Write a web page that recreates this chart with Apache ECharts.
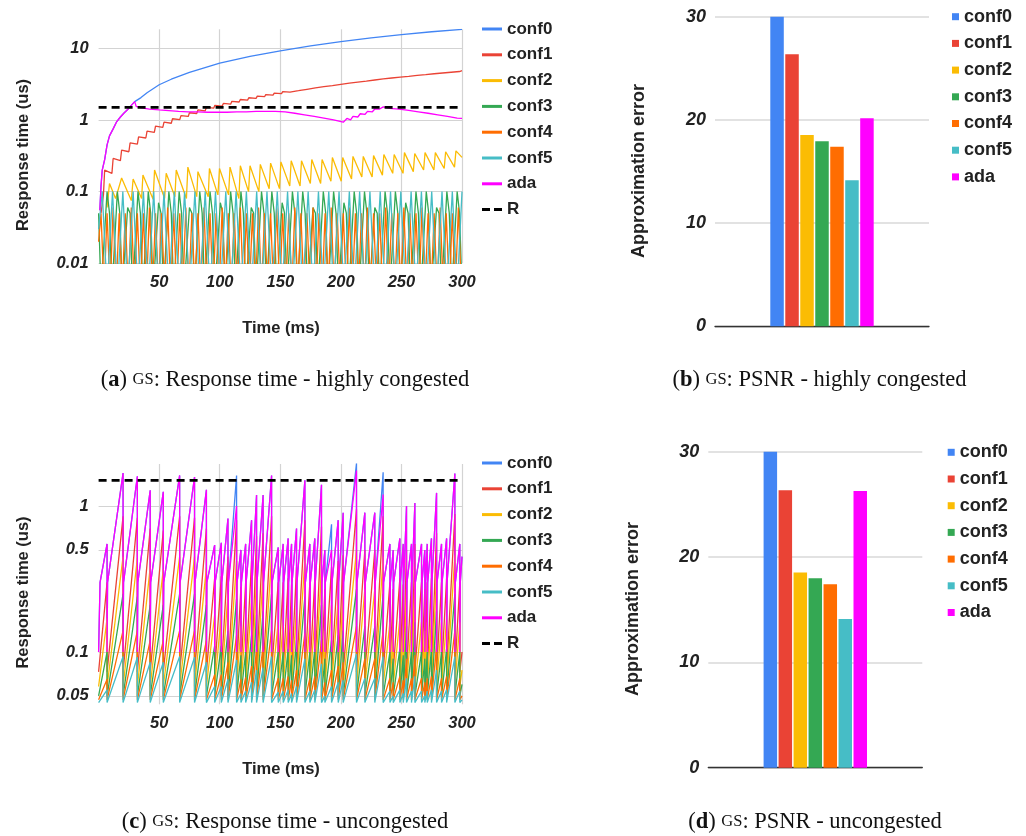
<!DOCTYPE html>
<html>
<head>
<meta charset="utf-8">
<script src="https://cdn.jsdelivr.net/npm/echarts@6/dist/echarts.min.js"></script>
<style>
  html, body { margin: 0; padding: 0; background: #fff; }
  #chart { width: 1026px; height: 836px; }
</style>
</head>
<body>
<div id="chart"></div>
<script>
// ---- shared ----
const seriesNames = ['conf0', 'conf1', 'conf2', 'conf3', 'conf4', 'conf5', 'ada']
const seriesColors = ['#4285F4', '#EA4335', '#FBBC04', '#34A853', '#FF6D01', '#46BDC6', '#FF00FF']
const rValue = 1.5

// ---- (a) response time, highly congested: [time ms, response us] ----
const yTicksA = [0.01, 0.1, 1, 10]
const conf0A = [[1,0.055],[2,0.12],[3,0.2],[5,0.28],[7,0.45],[9,0.6],[12,0.75],[15,0.95],[18,1.1],[21,1.25],[24,1.4],[27,1.6],[29.8,1.8],[35,2.05],[40,2.4],[50,3.1],[60,3.7],[75,4.6],[100,6.2],[125,7.7],[150,9.2],[175,10.8],[200,12.4],[225,14],[250,15.5],[275,17],[300,18.4]]
const conf1A = [[2,0.05],[4,0.09],[5,0.2],[11,0.18],[12,0.29],[18,0.27],[19,0.38],[25,0.36],[26,0.48],[32,0.46],[33,0.58],[39,0.56],[40,0.7],[46,0.67],[47,0.82],[53,0.79],[54,0.93],[60,0.9],[61,1.04],[67,1.01],[68,1.15],[74,1.12],[75,1.26],[81,1.23],[82,1.38],[88,1.34],[89,1.5],[95,1.46],[96,1.6],[102,1.56],[103,1.7],[109,1.66],[110,1.82],[116,1.78],[117,1.93],[123,1.89],[124,2.04],[130,2.0],[131,2.15],[137,2.11],[138,2.26],[144,2.22],[145,2.37],[151,2.33],[152,2.49],[158,2.45],[159,2.6],[165,2.56],[166,2.72],[172,2.68],[173,2.84],[179,2.8],[180,2.95],[186,2.91],[187,3.06],[193,3.02],[194,3.18],[200,3.14],[201,3.3],[207,3.26],[208,3.42],[214,3.38],[215,3.53],[221,3.49],[222,3.65],[228,3.61],[229,3.77],[235,3.73],[236,3.89],[242,3.85],[243,4.0],[249,3.96],[250,4.1],[256,4.06],[257,4.22],[263,4.18],[264,4.33],[270,4.29],[271,4.45],[277,4.41],[278,4.56],[284,4.52],[285,4.67],[291,4.63],[292,4.78],[298,4.74],[299,4.88],[300,4.87]]
const conf2A = [[7,0.06],[9,0.13],[14,0.08],[19,0.155],[27,0.075],[28.5,0.15],[35.5,0.08],[36.6,0.17],[45,0.078],[46.2,0.2],[54.5,0.08],[55.8,0.18],[63,0.085],[64.1,0.2],[72.5,0.08],[73.7,0.22],[81,0.085],[82,0.19],[90.5,0.085],[91.5,0.21],[98.5,0.09],[99.8,0.21],[107.3,0.09],[108.5,0.22],[115.8,0.08],[117,0.23],[123.8,0.1],[125,0.23],[132.3,0.1],[133.5,0.24],[140.8,0.11],[142,0.25],[149.3,0.11],[150.5,0.26],[157.8,0.12],[159,0.27],[166.3,0.12],[167.5,0.27],[174.8,0.13],[176,0.28],[183.3,0.13],[184.5,0.28],[191.8,0.14],[193,0.3],[200.3,0.14],[201.5,0.3],[208.8,0.15],[210,0.31],[217.3,0.16],[218.5,0.31],[225.8,0.16],[227,0.32],[234.3,0.17],[235.5,0.33],[242.8,0.18],[244,0.33],[251.3,0.18],[252.5,0.35],[259.8,0.19],[261,0.34],[268.3,0.2],[269.5,0.35],[276.8,0.2],[278,0.35],[285.3,0.21],[286.5,0.36],[293.8,0.22],[295,0.37],[300,0.3]]
const conf3A = [[0,0.05],[2,0.004],[7,0.1],[9,0.05],[11,0.004],[15.5,0.1],[17.5,0.05],[19.5,0.004],[24,0.06],[26,0.05],[28,0.004],[32.5,0.1],[34.5,0.05],[36.5,0.004],[41,0.1],[43,0.05],[45,0.004],[49.5,0.07],[51.5,0.05],[53.5,0.004],[58,0.1],[60,0.05],[62,0.004],[66.5,0.1],[68.5,0.05],[70.5,0.004],[75,0.06],[77,0.05],[79,0.004],[83.5,0.1],[85.5,0.05],[87.5,0.004],[92,0.1],[94,0.05],[96,0.004],[100.5,0.07],[102.5,0.05],[104.5,0.004],[109,0.1],[111,0.05],[113,0.004],[117.5,0.1],[119.5,0.05],[121.5,0.004],[126,0.06],[128,0.05],[130,0.004],[134.5,0.1],[136.5,0.05],[138.5,0.004],[143,0.1],[145,0.05],[147,0.004],[151.5,0.07],[153.5,0.05],[155.5,0.004],[160,0.1],[162,0.05],[164,0.004],[168.5,0.1],[170.5,0.05],[172.5,0.004],[177,0.06],[179,0.05],[181,0.004],[185.5,0.1],[187.5,0.05],[189.5,0.004],[194,0.1],[196,0.05],[198,0.004],[202.5,0.07],[204.5,0.05],[206.5,0.004],[211,0.1],[213,0.05],[215,0.004],[219.5,0.1],[221.5,0.05],[223.5,0.004],[228,0.06],[230,0.05],[232,0.004],[236.5,0.1],[238.5,0.05],[240.5,0.004],[245,0.1],[247,0.05],[249,0.004],[253.5,0.07],[255.5,0.05],[257.5,0.004],[262,0.1],[264,0.05],[266,0.004],[270.5,0.1],[272.5,0.05],[274.5,0.004],[279,0.06],[281,0.05],[283,0.004],[287.5,0.1],[289.5,0.05],[291.5,0.004],[296,0.1],[298,0.05],[300,0.004]]
const conf4A = [[0,0.02],[2,0.05],[4.5,0.004],[7,0.05],[9.5,0.004],[12,0.06],[14.5,0.004],[17,0.05],[19.5,0.004],[22,0.05],[24.5,0.004],[27,0.06],[29.5,0.004],[32,0.05],[34.5,0.004],[37,0.05],[39.5,0.004],[42,0.06],[44.5,0.004],[47,0.05],[49.5,0.004],[52,0.05],[54.5,0.004],[57,0.06],[59.5,0.004],[62,0.05],[64.5,0.004],[67,0.05],[69.5,0.004],[72,0.06],[74.5,0.004],[77,0.05],[79.5,0.004],[82,0.05],[84.5,0.004],[87,0.06],[89.5,0.004],[92,0.05],[94.5,0.004],[97,0.05],[99.5,0.004],[102,0.06],[104.5,0.004],[107,0.05],[109.5,0.004],[112,0.05],[114.5,0.004],[117,0.06],[119.5,0.004],[122,0.05],[124.5,0.004],[127,0.05],[129.5,0.004],[132,0.06],[134.5,0.004],[137,0.05],[139.5,0.004],[142,0.05],[144.5,0.004],[147,0.06],[149.5,0.004],[152,0.05],[154.5,0.004],[157,0.05],[159.5,0.004],[162,0.06],[164.5,0.004],[167,0.05],[169.5,0.004],[172,0.05],[174.5,0.004],[177,0.06],[179.5,0.004],[182,0.05],[184.5,0.004],[187,0.05],[189.5,0.004],[192,0.06],[194.5,0.004],[197,0.05],[199.5,0.004],[202,0.05],[204.5,0.004],[207,0.06],[209.5,0.004],[212,0.05],[214.5,0.004],[217,0.05],[219.5,0.004],[222,0.06],[224.5,0.004],[227,0.05],[229.5,0.004],[232,0.05],[234.5,0.004],[237,0.06],[239.5,0.004],[242,0.05],[244.5,0.004],[247,0.05],[249.5,0.004],[252,0.06],[254.5,0.004],[257,0.05],[259.5,0.004],[262,0.05],[264.5,0.004],[267,0.06],[269.5,0.004],[272,0.05],[274.5,0.004],[277,0.05],[279.5,0.004],[282,0.06],[284.5,0.004],[287,0.05],[289.5,0.004],[292,0.05],[294.5,0.004],[297,0.06],[299.5,0.004]]
const conf5A = [[0,0.03],[3,0.1],[7,0.004],[11.5,0.1],[15.5,0.004],[20,0.1],[24,0.004],[28.5,0.1],[32.5,0.004],[37,0.1],[41,0.004],[45.5,0.1],[49.5,0.004],[54,0.1],[58,0.004],[62.5,0.1],[66.5,0.004],[71,0.1],[75,0.004],[79.5,0.1],[83.5,0.004],[88,0.1],[92,0.004],[96.5,0.1],[100.5,0.004],[105,0.1],[109,0.004],[113.5,0.1],[117.5,0.004],[122,0.1],[126,0.004],[130.5,0.1],[134.5,0.004],[139,0.1],[143,0.004],[147.5,0.1],[151.5,0.004],[156,0.1],[160,0.004],[164.5,0.1],[168.5,0.004],[173,0.1],[177,0.004],[181.5,0.1],[185.5,0.004],[190,0.1],[194,0.004],[198.5,0.1],[202.5,0.004],[207,0.1],[211,0.004],[215.5,0.1],[219.5,0.004],[224,0.1],[228,0.004],[232.5,0.1],[236.5,0.004],[241,0.1],[245,0.004],[249.5,0.1],[253.5,0.004],[258,0.1],[262,0.004],[266.5,0.1],[270.5,0.004],[275,0.1],[279,0.004],[283.5,0.1],[287.5,0.004],[292,0.1],[296,0.004],[300,0.1]]
const adaA = [[1,0.055],[2,0.12],[3,0.2],[5,0.28],[7,0.45],[9,0.6],[12,0.75],[15,0.95],[18,1.1],[21,1.25],[24,1.4],[27,1.6],[29.8,1.8],[31,1.55],[34,1.5],[38,1.45],[42,1.42],[43,1.48],[50,1.38],[51,1.44],[58,1.35],[59,1.41],[66,1.32],[67,1.38],[74,1.3],[75,1.36],[82,1.3],[83,1.36],[90,1.28],[91,1.35],[98,1.28],[99,1.34],[106,1.28],[107,1.35],[114,1.3],[115,1.36],[122,1.3],[123,1.37],[130,1.32],[131,1.38],[138,1.32],[139,1.38],[146,1.32],[147,1.38],[154,1.3],[155,1.35],[162,1.24],[163,1.3],[170,1.18],[171,1.24],[178,1.12],[179,1.18],[186,1.06],[187,1.12],[194,1.0],[195,1.05],[202,0.93],[205,1.05],[208,1.0],[210,1.12],[214,1.1],[216,1.22],[220,1.2],[222,1.32],[226,1.3],[228,1.42],[232,1.42],[235,1.52],[240,1.45],[241,1.5],[248,1.42],[249,1.47],[256,1.36],[257,1.41],[264,1.3],[265,1.35],[272,1.24],[273,1.29],[280,1.18],[281,1.23],[288,1.12],[289,1.17],[296,1.06],[297,1.1],[300,1.05]]

// ---- (c) response time, uncongested: reset times + per-cycle peaks ----
const yTicksC = [0.05, 0.1, 0.5, 1]
const resetC = [7.0,20.2,32.0,42.6,53.4,66.9,79.2,89.0,95.8,101.3,106.8,113.9,117.5,121.4,126.3,130.4,135.8,142.8,148.3,152.4,156.5,159.3,163.4,170.3,174.4,178.5,184.0,186.8,192.3,197.8,201.9,212.9,219.8,228.0,234.9,240.5,243.2,248.7,251.5,254.2,258.3,261.1,266.6,269.3,271.3,274.8,279.0,283.1,287.3,294.1,298.2]
const conf0C = [0.55,1.68,1.6,1.28,1.25,1.62,1.58,1.29,0.54,0.56,0.82,1.62,0.5,0.55,0.8,1.19,1.19,1.62,0.52,0.55,0.6,0.55,0.7,1.5,0.55,0.6,1.4,0.5,0.75,0.8,0.9,1.96,0.9,0.9,1.7,0.55,0.5,0.6,0.55,1.0,0.55,1.05,0.55,0.5,0.55,0.6,1.23,0.55,0.6,1.67,0.55]
const conf1C = [0.3,0.85,0.83,0.7,0.68,0.85,0.83,0.7,0.32,0.33,0.45,0.8,0.28,0.3,0.42,0.62,0.65,0.85,0.3,0.3,0.32,0.29,0.38,0.8,0.3,0.32,0.72,0.27,0.38,0.42,0.46,0.95,0.5,0.5,0.85,0.3,0.27,0.32,0.29,0.5,0.3,0.55,0.3,0.27,0.3,0.32,0.65,0.3,0.32,0.88,0.3]
const conf2C = [0.17,0.45,0.44,0.38,0.37,0.45,0.45,0.38,0.18,0.18,0.25,0.42,0.15,0.16,0.23,0.33,0.35,0.45,0.16,0.16,0.17,0.15,0.2,0.43,0.16,0.17,0.38,0.14,0.21,0.23,0.25,0.5,0.27,0.27,0.45,0.16,0.14,0.17,0.15,0.27,0.16,0.3,0.16,0.14,0.16,0.17,0.35,0.16,0.17,0.46,0.16]
const conf3C = [0.1,0.25,0.24,0.21,0.21,0.25,0.25,0.21,0.11,0.11,0.14,0.23,0.095,0.1,0.13,0.18,0.19,0.25,0.1,0.1,0.105,0.095,0.12,0.24,0.1,0.105,0.21,0.09,0.12,0.13,0.14,0.27,0.15,0.15,0.25,0.1,0.09,0.105,0.095,0.15,0.1,0.16,0.1,0.09,0.1,0.105,0.19,0.1,0.105,0.25,0.1]
const conf4C = [0.065,0.14,0.14,0.12,0.12,0.14,0.14,0.12,0.07,0.07,0.085,0.13,0.065,0.067,0.08,0.105,0.11,0.14,0.066,0.066,0.068,0.064,0.075,0.135,0.066,0.068,0.12,0.062,0.075,0.08,0.085,0.15,0.09,0.09,0.14,0.066,0.062,0.068,0.064,0.09,0.066,0.095,0.066,0.062,0.066,0.068,0.11,0.066,0.068,0.14,0.066]
const conf5C = [0.055,0.093,0.092,0.085,0.085,0.093,0.092,0.085,0.058,0.058,0.065,0.088,0.052,0.054,0.062,0.075,0.078,0.093,0.053,0.054,0.055,0.052,0.058,0.09,0.054,0.055,0.083,0.05,0.058,0.062,0.064,0.097,0.066,0.066,0.093,0.054,0.05,0.055,0.052,0.066,0.054,0.068,0.054,0.05,0.054,0.055,0.075,0.054,0.055,0.093,0.054]
const adaC = [0.55,1.68,1.6,1.28,1.25,1.62,1.58,1.29,0.54,0.56,0.82,1.0,0.5,0.55,0.8,1.19,1.19,1.62,0.52,0.55,0.6,0.55,0.7,1.5,0.55,0.6,1.4,0.5,0.5,0.8,0.9,1.75,0.9,0.9,1.2,0.55,0.5,0.6,0.55,1.0,0.55,1.05,0.55,0.5,0.55,0.6,1.23,0.55,0.6,1.67,0.55]
const floorC = [0.1, 0.073, 0.058, 0.05, 0.047, 0.045, 0.1]
// level reached right after the quick jump at the start of a cycle (null = no jump)
const jumpC = [0.3, null, null, null, null, null, 0.3]
const endC = [0.45, 0.1, 0.075, 0.06, 0.05, 0.047, 0.45]

// ---- (b) / (d) approximation error ----
const errorB = [30, 26.36, 18.54, 17.93, 17.4, 14.15, 20.16]
const errorD = [30, 26.34, 18.52, 17.98, 17.41, 14.12, 26.28]
const yTicksBar = [0, 10, 20, 30]

const FONT = '"Liberation Sans", Arial, sans-serif'
const SERIF = '"Liberation Serif", "DejaVu Serif", serif'
const TEXT = '#222'

function cycleData(peaks, floor, jump, endValue) {
  const pts = [[0, floor]]
  if (jump) pts.push([1.2, jump])
  resetC.forEach((t, i) => {
    pts.push([t, peaks[i]])
    pts.push([t, floor])
    if (jump && jump < (peaks[i + 1] || endValue)) pts.push([t + 0.4, jump])
  })
  pts.push([300, endValue])
  return pts
}

function lineSeries(name, color, data, idx) {
  return {
    type: 'line', name, data, xAxisIndex: idx, yAxisIndex: idx,
    symbol: 'none', showSymbol: false, silent: true, color,
    lineStyle: { width: 1.3, color },
  }
}

function rSeries(idx) {
  return {
    type: 'line', name: 'R', data: [[0, rValue], [300, rValue]],
    xAxisIndex: idx, yAxisIndex: idx, symbol: 'none', silent: true, color: '#000',
    lineStyle: { width: 2.8, color: '#000', type: [8, 5] }, z: 5,
  }
}

function barSeries(name, color, value, idx) {
  return {
    type: 'bar', name, data: [value], xAxisIndex: idx, yAxisIndex: idx,
    barWidth: 13.5, barGap: '11%', silent: true, itemStyle: { color },
  }
}

const tickLabel = { fontFamily: FONT, fontWeight: 'bold', fontStyle: 'italic', color: TEXT }

function timeAxis(idx) {
  return {
    gridIndex: idx, type: 'value', min: 0, max: 300, interval: 50,
    axisLine: { show: false }, axisTick: { show: false },
    axisLabel: { ...tickLabel, fontSize: 16.5, margin: 11, showMinLabel: false },
    splitLine: { show: true, showMinLine: false, lineStyle: { color: '#d3d3d3', width: 1.2 } },
  }
}

function logAxis(idx, min, max, ticks) {
  return {
    gridIndex: idx, type: 'log', logBase: 10, min, max,
    axisLine: { show: false },
    axisTick: { show: false, customValues: ticks },
    axisLabel: {
      ...tickLabel, fontSize: 16.5, margin: 10, customValues: ticks,
      formatter: (v) => String(+Number(v).toPrecision(2)),
    },
    splitLine: { show: true, lineStyle: { color: '#d3d3d3', width: 1.2 } },
  }
}

function barXAxis(idx) {
  return {
    gridIndex: idx, type: 'category', data: [''],
    axisLine: { show: true, lineStyle: { color: '#333', width: 1.3 } },
    axisTick: { show: false }, axisLabel: { show: false }, splitLine: { show: false },
  }
}

function barYAxis(idx) {
  return {
    gridIndex: idx, type: 'value', min: yTicksBar[0], max: yTicksBar[3], interval: 10,
    axisLine: { show: false }, axisTick: { show: false },
    axisLabel: { ...tickLabel, fontSize: 18, margin: 9 },
    splitLine: { show: true, lineStyle: { color: '#d9d9d9', width: 1.5 } },
  }
}

function lineLegend(top) {
  const items = seriesNames.map((name) => ({ name, icon: 'rect' }))
  items.push({ name: 'R', icon: 'path://M0,0h8v3h-8zM12,0h8v3h-8z' })
  return {
    orient: 'vertical', left: 482, top, padding: 0,
    itemWidth: 20, itemHeight: 3, itemGap: 7.8,
    data: items,
    textStyle: { fontFamily: FONT, fontSize: 17, fontWeight: 'bold', color: TEXT, lineHeight: 18 },
    selectedMode: false,
  }
}

function barLegend(left, top) {
  return {
    orient: 'vertical', left, top, padding: 0,
    itemWidth: 7, itemHeight: 7, itemGap: 6.7, icon: 'rect',
    data: seriesNames,
    textStyle: { fontFamily: FONT, fontSize: 18, fontWeight: 'bold', color: TEXT, lineHeight: 20 },
    selectedMode: false,
  }
}

function axisTitle(text, x, y, size, rotate) {
  return {
    type: 'text', x, y, rotation: rotate ? Math.PI / 2 : 0, silent: true,
    style: {
      text, fontFamily: FONT, fontSize: size, fontWeight: 'bold', fill: TEXT,
      align: 'center', verticalAlign: 'middle',
    },
  }
}

function caption(letter, rest, x, y) {
  return {
    type: 'text', x, y, silent: true,
    style: {
      text: '({b|' + letter + '}) {sc|GS}: ' + rest,
      fontFamily: SERIF, fontSize: 22.5, fill: '#111', align: 'center', verticalAlign: 'middle',
      rich: {
        b: { fontFamily: SERIF, fontSize: 22.5, fontWeight: 'bold', fill: '#111' },
        sc: { fontFamily: SERIF, fontSize: 16.5, fill: '#111' },
      },
    },
  }
}

const seriesA = [conf0A, conf1A, conf2A, conf3A, conf4A, conf5A, adaA]
const seriesC = [conf0C, conf1C, conf2C, conf3C, conf4C, conf5C, adaC]

const series = []
seriesNames.forEach((n, i) => series.push(lineSeries(n, seriesColors[i], seriesA[i], 0)))
series.push(rSeries(0))
seriesNames.forEach((n, i) => series.push(lineSeries(n, seriesColors[i], cycleData(seriesC[i], floorC[i], jumpC[i], endC[i]), 2)))
series.push(rSeries(2))
seriesNames.forEach((n, i) => series.push(barSeries(n, seriesColors[i], errorB[i], 1)))
seriesNames.forEach((n, i) => series.push(barSeries(n, seriesColors[i], errorD[i], 3)))

const chart = echarts.init(document.getElementById('chart'), null, { renderer: 'canvas' })
chart.setOption({
  animation: false,
  backgroundColor: '#fff',
  textStyle: { fontFamily: FONT },
  grid: [
    { left: 98.6, top: 29.3, width: 363.4, height: 234, outerBoundsMode: 'none' },
    { left: 715, top: 16.7, width: 214, height: 309.6, outerBoundsMode: 'none' },
    { left: 98.6, top: 464, width: 363.4, height: 240.3, outerBoundsMode: 'none' },
    { left: 708.3, top: 451.7, width: 214, height: 316, outerBoundsMode: 'none' },
  ],
  xAxis: [timeAxis(0), barXAxis(1), timeAxis(2), barXAxis(3)],
  yAxis: [
    logAxis(0, 0.01, 18.4, yTicksA),
    barYAxis(1),
    logAxis(2, 0.0438, 1.94, yTicksC),
    barYAxis(3),
  ],
  legend: [lineLegend(20), barLegend(952, 6.7), lineLegend(454), barLegend(947.7, 442.3)],
  series,
  graphic: [
    axisTitle('Response time (us)', 23, 155, 16.5, true),
    axisTitle('Time (ms)', 281, 328, 16.5, false),
    axisTitle('Response time (us)', 23, 592.5, 16.5, true),
    axisTitle('Time (ms)', 281, 769, 16.5, false),
    axisTitle('Approximation error', 639.3, 171, 18, true),
    axisTitle('Approximation error', 633.3, 609, 18, true),
    caption('a', 'Response time - highly congested', 285, 380),
    caption('b', 'PSNR - highly congested', 819.5, 380),
    caption('c', 'Response time - uncongested', 285, 822),
    caption('d', 'PSNR - uncongested', 815, 822),
  ],
})
</script>
</body>
</html>
